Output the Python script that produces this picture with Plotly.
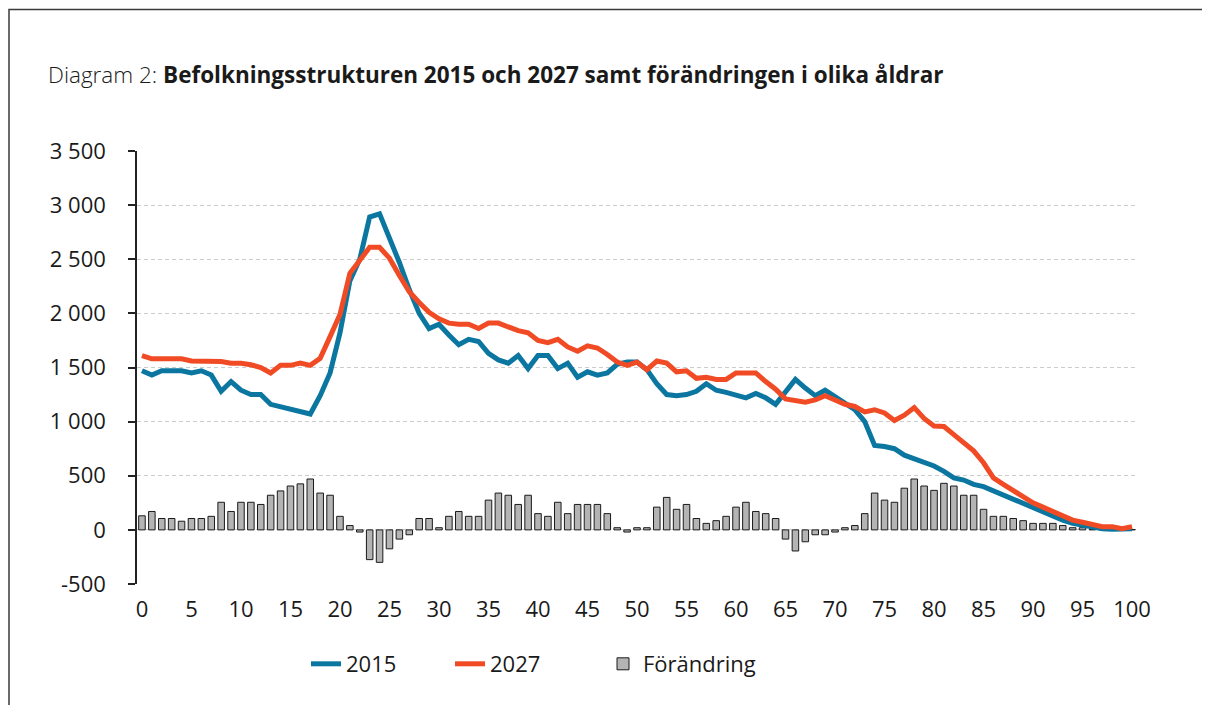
import plotly.graph_objects as go

ages = list(range(101))

pop_2015 = [1470, 1430, 1470, 1470, 1470, 1450, 1470, 1430, 1280, 1370,
            1290, 1250, 1250, 1160, 1140, 1110, 1090, 1070, 1240, 1450,
            1820, 2300, 2500, 2890, 2920, 2700, 2470, 2220, 2000, 1860,
            1900, 1800, 1710, 1760, 1740, 1630, 1570, 1540, 1610, 1490,
            1610, 1610, 1490, 1540, 1410, 1460, 1430, 1450, 1530, 1550,
            1550, 1480, 1350, 1250, 1240, 1250, 1280, 1350, 1290, 1270,
            1250, 1220, 1260, 1220, 1160, 1270, 1390, 1310, 1240, 1290,
            1230, 1160, 1110, 1000, 780, 770, 750, 690, 660, 630,
            590, 540, 480, 460, 420, 400, 360, 330, 280, 250,
            200, 170, 130, 90, 60, 40, 20, 10, 6, 5, 10]

pop_2027 = [1610, 1580, 1580, 1580, 1580, 1560, 1560, 1560, 1555, 1540,
            1540, 1525, 1500, 1450, 1520, 1520, 1540, 1520, 1585, 1785,
            1990, 2370, 2500, 2610, 2610, 2510, 2350, 2200, 2100, 2010,
            1950, 1910, 1900, 1900, 1860, 1910, 1910, 1870, 1840, 1820,
            1750, 1730, 1760, 1690, 1650, 1700, 1680, 1620, 1550, 1520,
            1550, 1480, 1560, 1540, 1460, 1470, 1400, 1410, 1390, 1390,
            1450, 1450, 1450, 1370, 1300, 1210, 1200, 1180, 1200, 1240,
            1200, 1160, 1140, 1090, 1110, 1080, 1010, 1060, 1130, 1030,
            960, 955, 880, 800, 730, 620, 480, 420, 360, 310,
            250, 210, 170, 120, 90, 70, 50, 30, 30, 10, 30]

change = [130, 170, 105, 105, 80, 105, 105, 125, 255, 170,
          255, 255, 235, 320, 360, 405, 425, 470, 340, 320,
          125, 40, -20, -275, -300, -175, -85, -45, 105, 105,
          20, 125, 170, 125, 125, 275, 340, 320, 235, 320,
          150, 125, 255, 150, 235, 235, 235, 150, 20, -20,
          20, 20, 210, 300, 190, 235, 105, 60, 85, 125,
          210, 255, 170, 150, 105, -85, -195, -110, -45, -45,
          -20, 20, 40, 150, 340, 275, 255, 385, 470, 405,
          365, 430, 405, 320, 320, 190, 125, 125, 105, 85,
          60, 60, 60, 40, 20, 20, 5, 5, 3, 2, 3]

y_tickvals = [-500, 0, 500, 1000, 1500, 2000, 2500, 3000, 3500]
y_ticktext = ["-500", "0", "500", "1 000", "1 500", "2 000", "2 500", "3 000", "3 500"]
x_tickvals = list(range(0, 101, 5))
x_ticktext = [str(v) for v in x_tickvals]

series_names = ["2015", "2027", "Förändring"]
BLUE = "#0B76A0"
RED = "#F04B24"
GRAY = "#B4B4B4"
TXT = "#1A1A1A"
FONT = "Open Sans"

# the page body adds an 8px offset; figure sized so it fits the 1210x713 window
OFF = 8
W, H = 1194, 697
L, T = 137 - OFF, 151 - OFF
R = W - (1137 - OFF)
B = H - (584 - OFF)
PW, PH = W - L - R, H - T - B
YMIN, YMAX = -500, 3500

fig = go.Figure()
fig.add_trace(go.Bar(
    x=ages, y=change, name=series_names[2],
    marker=dict(color=GRAY, line=dict(color="#1A1A1A", width=1)),
    legend="legend3"))
fig.add_trace(go.Scatter(
    x=ages, y=pop_2015, name=series_names[0], mode="lines",
    line=dict(color=BLUE, width=5), legend="legend"))
fig.add_trace(go.Scatter(
    x=ages, y=pop_2027, name=series_names[1], mode="lines",
    line=dict(color=RED, width=5), legend="legend2"))

tickfont = dict(family=FONT, size=22, color=TXT, weight=400)
legfont = dict(family=FONT, size=22, color=TXT, weight=400)
leg_y = (T + PH - (664 - OFF)) / PH


def legend_at(screen_x):
    return dict(orientation="h", x=(screen_x - OFF - L) / PW, xanchor="left",
                y=leg_y, yanchor="middle", font=legfont,
                bgcolor="rgba(0,0,0,0)")


fig.update_layout(
    width=W, height=H,
    margin=dict(l=L, r=R, t=T, b=B),
    paper_bgcolor="white", plot_bgcolor="white",
    bargap=0.34,
    showlegend=True,
    legend=legend_at(306),
    legend2=legend_at(450),
    legend3=legend_at(603),
    title=dict(text="Diagram 2: <b>Befolkningsstrukturen 2015 och 2027 samt förändringen i olika åldrar</b>",
               xref="container", yref="container", x=(48 - OFF) / W, xanchor="left",
               y=1 - (75 - OFF) / H, yanchor="middle",
               font=dict(family=FONT, size=22.5, color=TXT, weight=300)),
    xaxis=dict(range=[-0.5, 100.5], tickmode="array", tickvals=x_tickvals, ticktext=x_ticktext,
               showgrid=False, zeroline=False, showline=False, ticks="",
               ticklabelstandoff=10, tickfont=tickfont),
    xaxis2=dict(range=[-0.5, 100.5], overlaying="x", anchor="free",
                position=(0 - YMIN) / (YMAX - YMIN),
                tickmode="array", tickvals=[v - 0.5 for v in x_tickvals[1:]],
                showticklabels=False, ticks="outside", ticklen=7, tickwidth=1.5, tickcolor="#222",
                showline=True, linecolor="#222", linewidth=2, showgrid=False, zeroline=False),
    yaxis=dict(range=[YMIN, YMAX], tickmode="array", tickvals=y_tickvals, ticktext=y_ticktext,
               showgrid=True, gridcolor="#CCCCCC", griddash="4px,3px", gridwidth=1,
               zeroline=False, showline=True, linecolor="#222", linewidth=1.5,
               ticks="outside", ticklen=7, tickwidth=1.5, tickcolor="#222",
               ticklabelstandoff=18, tickfont=tickfont),
)

# outer frame (left and top edges)
fx = (9 - OFF - L) / PW
fy_top = (T + PH - (9.5 - OFF)) / PH
fy_bot = (T + PH - (H + 5)) / PH
fx_right = (W + 5 - L) / PW
fig.add_shape(type="path", xref="paper", yref="paper",
              path=f"M {fx} {fy_bot} L {fx} {fy_top} L {fx_right} {fy_top}",
              line=dict(color="#3A3A3A", width=1.5))

fig.write_html("out.html")
